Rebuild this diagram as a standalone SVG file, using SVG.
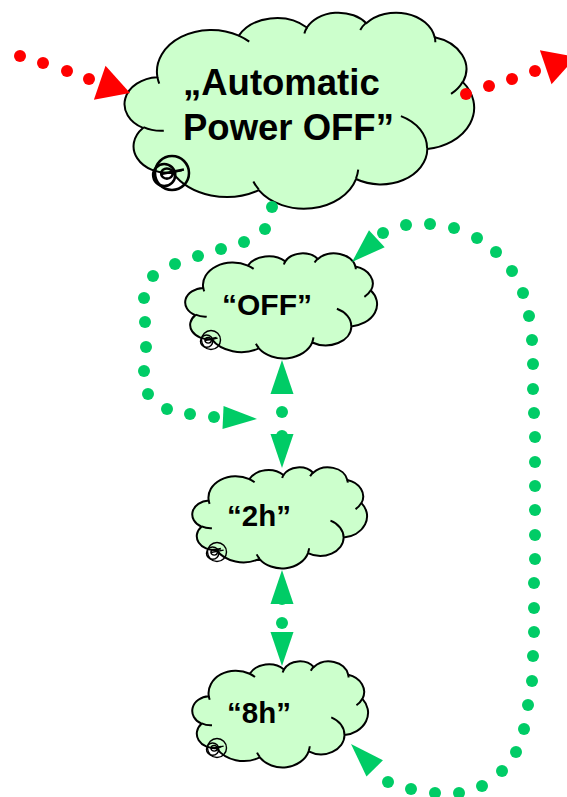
<svg xmlns="http://www.w3.org/2000/svg" xmlns:xlink="http://www.w3.org/1999/xlink" width="567" height="797" viewBox="0 0 567 797">
<style>
.cloud{fill:#CCFFCC;stroke:#000;stroke-width:2;stroke-linejoin:round}
.curl{fill:none;stroke:#000;stroke-width:2}
.icon{fill:none;stroke:#000;stroke-width:1.5}
.lbl{font-family:"Liberation Sans",Arial,sans-serif;font-weight:bold;fill:#000}
.conn{fill:none;stroke:none}
</style>
<defs>
<path id="cloudOutline" vector-effect="non-scaling-stroke" d="M3900,14370 A6753,9190 0 0 1 14005,5202 A5333,7267 0 0 1 22456,3432 A4365,5945 0 0 1 29833,2481 A4857,6595 0 0 1 38318,5576 A5333,7273 0 0 1 41819,15460 A6775,9220 0 0 1 37404,30203 A5785,7867 0 0 1 28556,36813 A6752,9215 0 0 1 16480,39264 A7720,10543 0 0 1 5805,35470 A4360,5918 0 0 1 2114,25548 A4345,5945 0 0 1 3900,14370 Z"/>
<path id="cloudCurls" vector-effect="non-scaling-stroke" d="M4693,26177 A4345,5945 0 0 1 2160,25380 M6928,34899 A4360,5918 0 0 1 5820,35280 M16478,39090 A6752,9215 0 0 1 15810,37350 M28827,34751 A6752,9215 0 0 1 28560,36660 M34129,22954 A5785,7867 0 0 1 37380,30090 M41798,15354 A5333,7273 0 0 1 40350,18030 M38324,5426 A4857,6595 0 0 1 38400,6690 M29078,3952 A4857,6595 0 0 1 29820,2341 M22141,4720 A4365,5945 0 0 1 22500,3330 M14000,5192 A6753,9190 0 0 1 15300,6540 M4127,15789 A6753,9190 0 0 1 3900,14370"/>
<g id="icon" class="icon">
<circle cx="0" cy="0" r="10"/>
<circle cx="-4.6" cy="1.2" r="6.5"/>
<ellipse cx="-3" cy="0.3" rx="3.4" ry="3"/>
<path d="M-6.4,0.6 L7,-2"/>
</g>
<marker id="rDot" markerUnits="userSpaceOnUse" viewBox="0 0 12 12" markerWidth="12" markerHeight="12" refX="6" refY="6" overflow="visible"><circle cx="6" cy="6" r="6" fill="#FF0000"/></marker>
<marker id="rArrow" markerUnits="userSpaceOnUse" viewBox="0 0 32 36" markerWidth="32" markerHeight="36" refX="32" refY="18" orient="auto-start-reverse" overflow="visible"><path d="M0,0 L32,18 L0,36 Z" fill="#FF0000"/></marker>
<marker id="gDot" markerUnits="userSpaceOnUse" viewBox="0 0 12 12" markerWidth="12" markerHeight="12" refX="6" refY="6" overflow="visible"><circle cx="6" cy="6" r="6" fill="#00CC66"/></marker>
<marker id="gArrow" markerUnits="userSpaceOnUse" viewBox="0 0 34 23" markerWidth="34" markerHeight="23" refX="34" refY="11.5" orient="auto-start-reverse" overflow="visible"><path d="M0,0 L34,11.5 L0,23 Z" fill="#00CC66"/></marker>
</defs>
<rect width="567" height="797" fill="#FFFFFF"/>

<g id="node-auto-power-off">
<g transform="translate(126,12) scale(0.0080556,0.0045370)">
<use xlink:href="#cloudOutline" class="cloud"/>
<use xlink:href="#cloudCurls" class="curl"/>
</g>
<use xlink:href="#icon" transform="translate(172,173) scale(1.7)"/>
<text class="lbl" x="183" y="95" font-size="36.5">„Automatic</text>
<text class="lbl" x="183" y="140" font-size="36.5">Power OFF”</text>
</g>

<g id="node-off">
<g transform="translate(186,253) scale(0.0044213,0.0024306)">
<use xlink:href="#cloudOutline" class="cloud"/>
<use xlink:href="#cloudCurls" class="curl"/>
</g>
<use xlink:href="#icon" transform="translate(211,340) scale(0.95)"/>
<text class="lbl" x="222" y="315" font-size="30">“OFF”</text>
</g>

<g id="node-2h">
<g transform="translate(193,467) scale(0.0040278,0.0023380)">
<use xlink:href="#cloudOutline" class="cloud"/>
<use xlink:href="#cloudCurls" class="curl"/>
</g>
<use xlink:href="#icon" transform="translate(217,552) scale(0.95)"/>
<text class="lbl" x="227" y="526" font-size="29.5">“2h”</text>
</g>

<g id="node-8h">
<g transform="translate(193,661) scale(0.0040509,0.0024537)">
<use xlink:href="#cloudOutline" class="cloud"/>
<use xlink:href="#cloudCurls" class="curl"/>
</g>
<use xlink:href="#icon" transform="translate(217,748) scale(0.95)"/>
<text class="lbl" x="227" y="723" font-size="29.5">“8h”</text>
</g>

<g id="connectors">
<path class="conn" d="M20,56 L43,63 L67,71 L89,79 L130,93" marker-start="url(#rDot)" marker-mid="url(#rDot)" marker-end="url(#rArrow)"/>
<path class="conn" d="M466,94 L489,86 L512,79 L535,71 L576,57" marker-start="url(#rDot)" marker-mid="url(#rDot)" marker-end="url(#rArrow)"/>
<path class="conn" d="M272,207 L265,229 L244,242 L221,249 L198,256 L175,264 L153,276 L144,298 L145,322 L146,347 L144,371 L148,394 L167,409 L190,414 L214,417 L257,419" marker-start="url(#gDot)" marker-mid="url(#gDot)" marker-end="url(#gArrow)"/>
<path class="conn" d="M282,360 L282,412 L282,436 L282,468" marker-start="url(#gArrow)" marker-mid="url(#gDot)" marker-end="url(#gArrow)"/>
<path class="conn" d="M282,570 L282,599 L282,623 L282,666" marker-start="url(#gArrow)" marker-mid="url(#gDot)" marker-end="url(#gArrow)"/>
<path class="conn" d="M352,262 L383,233 L406,225 L430,224 L454,228 L477,238 L496,252 L512,271 L523,293 L529,316 L532,340 L533,364 L533,389 L534,413 L535,437 L535,462 L535,486 L535,510 L535,535 L535,559 L534,583 L534,608 L534,632 L533,656 L532,681 L528,705 L524,729 L516,752 L502,771 L482,786 L459,793 L435,793 L411,789 L388,782 L351,744" marker-start="url(#gArrow)" marker-mid="url(#gDot)" marker-end="url(#gArrow)"/>
</g>
</svg>
